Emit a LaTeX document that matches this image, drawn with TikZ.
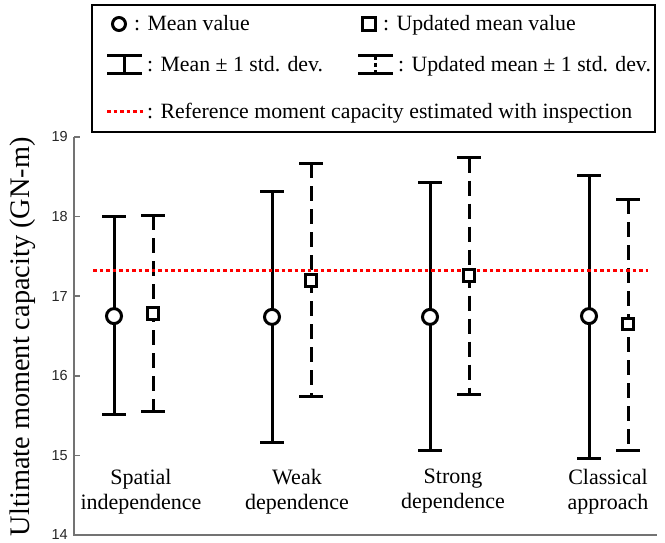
\documentclass[tikz,border=0pt]{standalone}
\usepackage{fontspec}
\setmainfont{Liberation Serif}
\newfontfamily\ticksfont{Liberation Sans}

\begin{document}
\begin{tikzpicture}[x = 1pt, y = 1pt,
	axisline/.style = {black!55, line width = 1.4pt},
	ticklabel/.style = {anchor = east, inner sep = 0pt, text = black!85, font = \ticksfont\fontsize{14.5}{16}\selectfont},
	meanbar/.style = {line width = 3pt},
	updbar/.style = {line width = 3pt, dash pattern = on 15pt off 8pt},
	refline/.style = {red, line width = 3pt, dash pattern = on 3.5pt off 3pt},
	meanmark/.style = {circle, draw, line width = 3pt, fill = white, minimum size = 15pt, inner sep = 0pt},
	updmark/.style = {rectangle, draw, line width = 3pt, fill = white, minimum size = 11.5pt, inner sep = 0pt},
	catlabel/.style = {align = center, inner sep = 0pt, font = \fontsize{22}{25}\selectfont},
	legtext/.style = {anchor = base west, inner sep = 0pt, font = \fontsize{21.8}{25}\selectfont}]

	\useasboundingbox (0, 0) rectangle (665, 542);

	% Plot area (x in px from the axis, y in GN-m)

	\begin{scope}[shift = {(74pt, -1107.4pt)}, y = 79.6pt]

		% Axes

		\draw [axisline] (0, 19) -- (0, 14) -- (583, 14);
		\foreach \v in {14, 15, 16, 17, 18, 19}
		{
			\draw [axisline] (0, \v) -- (6, \v);
			\node [ticklabel] (tick\v) at (-6, \v) {\v};
		}

		\node [rotate = 90, inner sep = 0pt, font = \fontsize{28.3}{30}\selectfont] (ylabel) at (-51.5, 16.49) {Ultimate moment capacity (GN-m)};

		% Error bars

		\foreach \k/\cx/\lx/\m/\lo/\hi/\um/\ulo/\uhi/\lab in {
			1/40/67/16.75/15.51/18.00/16.78/15.55/18.02/{Spatial\\independence},
			2/198/223/16.74/15.16/18.32/17.20/15.74/18.67/{Weak\\dependence},
			3/356/379/16.74/15.06/18.43/17.26/15.77/18.74/{Strong\\dependence},
			4/515/534/16.75/14.96/18.52/16.65/15.06/18.22/{Classical\\approach}}
		{
			\coordinate (hi\k) at (\cx, \hi);
			\coordinate (lo\k) at (\cx, \lo);
			\coordinate (uhi\k) at ({\cx + 39}, \uhi);
			\coordinate (ulo\k) at ({\cx + 39}, \ulo);

			\draw [meanbar] (hi\k) -- (lo\k);
			\draw [meanbar] ([xshift = -12pt] hi\k) -- ([xshift = 12pt] hi\k);
			\draw [meanbar] ([xshift = -12pt] lo\k) -- ([xshift = 12pt] lo\k);

			\draw [updbar] (uhi\k) -- (ulo\k);
			\draw [meanbar] ([xshift = -12pt] uhi\k) -- ([xshift = 12pt] uhi\k);
			\draw [meanbar] ([xshift = -12pt] ulo\k) -- ([xshift = 12pt] ulo\k);

			\node [catlabel] (cat\k) at (\lx, 14.546) {\lab};
		}

		% Reference capacity

		\coordinate (refA) at (19, 17.32);
		\coordinate (refB) at (574, 17.32);
		\draw [refline] (refA) -- (refB);

		% Markers

		\foreach \k/\cx/\m/\um in {1/40/16.75/16.78, 2/198/16.74/17.20, 3/356/16.74/17.26, 4/515/16.75/16.65}
		{
			\node [meanmark] (mean\k) at (\cx, \m) {};
			\node [updmark] (upd\k) at ({\cx + 39}, \um) {};
		}

	\end{scope}

	% Legend

	\draw [line width = 1.3pt, fill = white] (92, 410) rectangle (655, 537);

	\node [meanmark, minimum size = 13pt] (legmean) at (119, 518) {};
	\node [legtext] (legmeantext) at (134, 511) {: Mean value};
	\node [updmark, minimum size = 12.5pt] (legupd) at (369, 518) {};
	\node [legtext] (legupdtext) at (383, 511) {: Updated mean value};

	\coordinate (legbarA) at (124.5, 486);
	\coordinate (legbarB) at (124.5, 468);
	\draw [meanbar] (legbarA) -- (legbarB);
	\draw [meanbar] ([xshift = -17.5pt] legbarA) -- ([xshift = 17.5pt] legbarA);
	\draw [meanbar] ([xshift = -17.5pt] legbarB) -- ([xshift = 17.5pt] legbarB);
	\node [legtext] (legbartext) at (147, 470) {: Mean ± 1 std. dev.};

	\coordinate (legubarA) at (375.5, 486);
	\coordinate (legubarB) at (375.5, 468);
	\draw [meanbar, dash pattern = on 4pt off 3pt] (legubarA) -- (legubarB);
	\draw [meanbar] ([xshift = -17.5pt] legubarA) -- ([xshift = 17.5pt] legubarA);
	\draw [meanbar] ([xshift = -17.5pt] legubarB) -- ([xshift = 17.5pt] legubarB);
	\node [legtext] (legubartext) at (398, 470) {: Updated mean ± 1 std. dev.};

	\coordinate (legrefA) at (107, 430);
	\coordinate (legrefB) at (143, 430);
	\draw [refline] (legrefA) -- (legrefB);
	\node [legtext] (legreftext) at (147, 423) {: Reference moment capacity estimated with inspection};

\end{tikzpicture}
\end{document}
